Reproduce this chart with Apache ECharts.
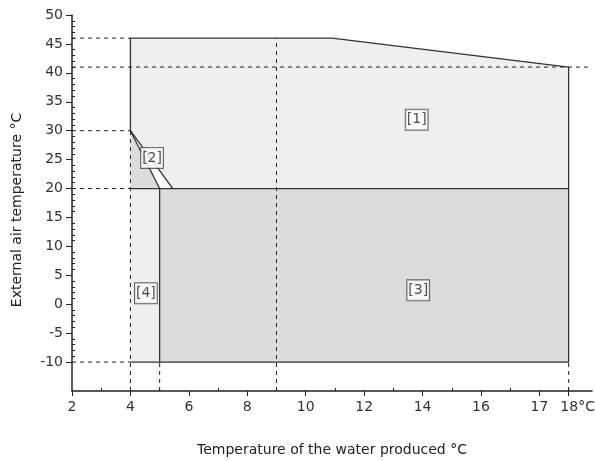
<!DOCTYPE html>
<html>
<head>
<meta charset="utf-8">
<script src="https://cdn.jsdelivr.net/npm/echarts@6/dist/echarts.min.js"></script>
<style>html,body{margin:0;padding:0;background:#fff}#c{width:595px;height:461px}</style>
</head>
<body>
<div id="c"></div>
<script>
// Operating zones (x = water temperature axis position, y = external air temperature)
const zone1 = [[4,30],[4,46],[10.9,46],[19,41],[19,20],[5.45,20]];
const zone2 = [[4,30],[4,20],[5,20]];
const zone3 = [[5,-10],[5,20],[19,20],[19,-10]];
const zone4 = [[4,-10],[4,20],[5,20],[5,-10]];
const zones = [zone1, zone2, zone3, zone4];
const zoneFills = ['#efeff1', '#dcdcdf', '#dcdcdf', '#efeff1'];

// Solid boundaries
const outline = [[4,30],[4,46],[10.9,46],[19,41],[19,-10],[4,-10]];
const border20 = [[4,20],[19,20]];
const border5 = [[5,-10],[5,20]];
const diag2a = [[4,30],[5,20]];
const diag2b = [[4,30],[5.45,20]];
const solidLines = [outline, border20, border5, diag2a, diag2b];

// Dashed reference lines
const dashed = [
  [[2,46],[4,46]],
  [[2,41],[19.8,41]],
  [[2,30],[4,30]],
  [[2,20],[4,20]],
  [[2,-10],[4,-10]],
  [[4,-15],[4,30]],
  [[5,-15],[5,-10]],
  [[9,-15],[9,46]],
  [[19,-15],[19,-10]]
];

// Zone labels
const zoneLabels = [[13.8,31.9,'[1]'],[4.74,25.3,'[2]'],[13.85,2.4,'[3]'],[4.53,1.9,'[4]']];

// Tick labels
const xTickValues = [2,4,6,8,10,12,14,16,18,19];
const xTickText = ['2','4','6','8','10','12','14','16','17','18°C'];
const yTickValues = [-10,-5,0,5,10,15,20,25,30,35,40,45,50];

const chart = echarts.init(document.getElementById('c'), null, {renderer:'canvas'});
const font = '"DejaVu Sans", sans-serif';
const axisColor = '#222';

const series = [];
series.push({
  type: 'custom',
  xAxisIndex: 0, yAxisIndex: 0,
  silent: true,
  z: 1,
  data: zones.map((z, i) => ({value: [z[0][0], z[0][1]]})),
  renderItem: function (params, api) {
    const z = zones[params.dataIndex];
    const pts = z.map(p => api.coord(p));
    return {type: 'polygon', shape: {points: pts}, style: {fill: zoneFills[params.dataIndex], stroke: null}};
  }
});
solidLines.forEach(l => series.push({
  type: 'line', xAxisIndex: 0, yAxisIndex: 0, data: l, symbol: 'none', silent: true, z: 3,
  lineStyle: {color: '#333', width: 1.3}
}));
dashed.forEach(l => series.push({
  type: 'line', xAxisIndex: 0, yAxisIndex: 0, data: l, symbol: 'none', silent: true, z: 4,
  lineStyle: {color: '#222', width: 1, type: [4, 4]}
}));
series.push({
  type: 'scatter', xAxisIndex: 0, yAxisIndex: 0, symbolSize: 1, silent: true, z: 6,
  itemStyle: {color: 'rgba(0,0,0,0)'},
  data: zoneLabels,
  label: {
    show: true, position: 'inside',
    formatter: p => p.data[2],
    fontFamily: font, fontSize: 14, color: '#222',
    backgroundColor: '#fff', borderColor: '#444', borderWidth: 1,
    padding: [3, 1, 3, 1]
  }
});

chart.setOption({
  animation: false,
  grid: [
    {left: 72, right: 3, top: 15, bottom: 70, outerBoundsMode: 'none', containLabel: false},
    {left: 72, right: 3, top: 15, bottom: 70, outerBoundsMode: 'none', containLabel: false},
    {left: 72, right: 3, top: 15, bottom: 99, outerBoundsMode: 'none', containLabel: false}
  ],
  xAxis: [
    {
      gridIndex: 0, type: 'value', min: 2, max: 19.8, interval: 2,
      name: 'Temperature of the water produced °C', nameLocation: 'middle', nameGap: 52,
      nameTextStyle: {fontFamily: font, fontSize: 14, color: '#222'},
      axisLine: {show: true, onZero: false, lineStyle: {color: axisColor, width: 1.5}},
      axisTick: {show: true, length: 5, customValues: xTickValues, lineStyle: {color: axisColor}},
      axisLabel: {
        customValues: xTickValues, margin: 9, fontFamily: font, fontSize: 14, color: '#333',
        formatter: v => {
          const i = xTickValues.indexOf(v);
          const t = i >= 0 ? xTickText[i] : '';
          return v === 19 ? '{p|}' + t : t;
        },
        rich: {p: {width: 18}}
      },
      splitLine: {show: false}
    },
    {
      gridIndex: 1, type: 'value', min: 2, max: 19.8, interval: 2,
      axisLine: {show: false, onZero: false}, axisLabel: {show: false},
      axisTick: {show: true, inside: true, length: 0, lineStyle: {opacity: 0}},
      minorTick: {show: true, splitNumber: 2, length: 3, lineStyle: {color: axisColor}},
      splitLine: {show: false}
    },
    {
      gridIndex: 2, type: 'value', min: 2, max: 19.8, show: false, axisLine: {onZero: false}
    }
  ],
  yAxis: [
    {
      gridIndex: 0, type: 'value', min: -15, max: 50, interval: 5,
      name: 'External air temperature °C', nameLocation: 'middle', nameGap: 48,
      nameTextStyle: {fontFamily: font, fontSize: 14, color: '#222', padding: [0, 14, 0, 0]},
      axisLine: {show: true, onZero: false, lineStyle: {color: axisColor, width: 1.5}},
      axisTick: {show: true, length: 6, customValues: yTickValues, lineStyle: {color: axisColor}},
      axisLabel: {customValues: yTickValues, margin: 9, fontFamily: font, fontSize: 14, color: '#333'},
      splitLine: {show: false}
    },
    {
      gridIndex: 1, type: 'value', min: -15, max: 50, show: false, axisLine: {onZero: false}
    },
    {
      gridIndex: 2, type: 'value', min: -10, max: 50, interval: 5,
      axisLine: {show: false, onZero: false}, axisLabel: {show: false},
      axisTick: {show: true, inside: true, length: 0, lineStyle: {opacity: 0}},
      minorTick: {show: true, splitNumber: 5, length: 3, lineStyle: {color: axisColor}},
      splitLine: {show: false}
    }
  ],
  series: series
});
</script>
</body>
</html>
